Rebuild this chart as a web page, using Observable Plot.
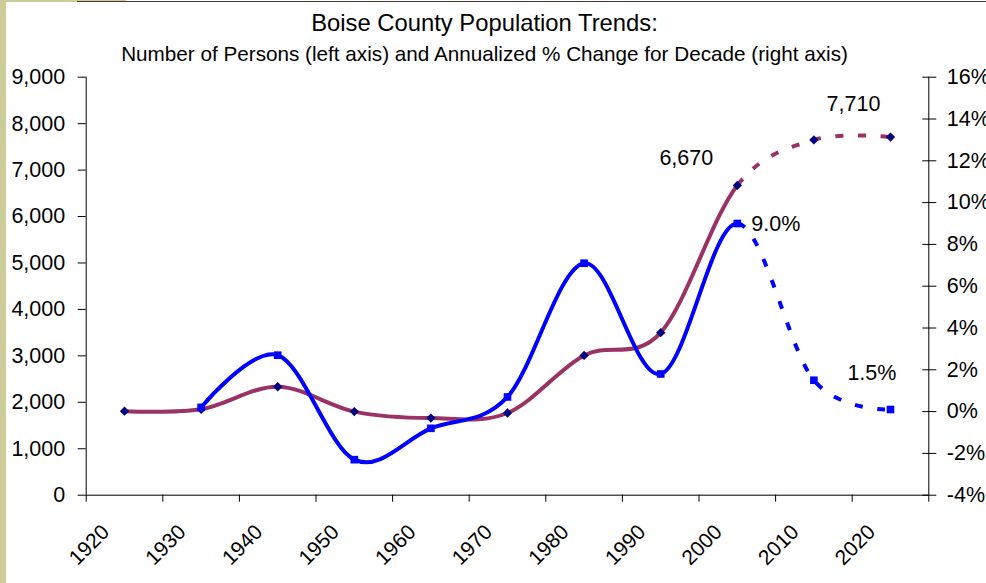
<!DOCTYPE html>
<html>
<head>
<meta charset="utf-8">
<script src="https://cdn.jsdelivr.net/npm/d3@7"></script>
<script src="https://cdn.jsdelivr.net/npm/@observablehq/plot@0.6"></script>
<style>
  html, body { margin: 0; padding: 0; background: #ffffff; }
  #page { position: relative; width: 986px; height: 583px; overflow: hidden; background: #ffffff;
          font-family: Arial, "Liberation Sans", sans-serif; color: #000; }
  .title { position: absolute; left: 0; width: 969px; text-align: center; white-space: nowrap; line-height: 1; }
  #t1 { top: 10.5px; font-size: 23.8px; }
  #t2 { top: 43.5px; font-size: 20.7px; }
  #chart { position: absolute; left: 0; top: 65px; }
  #chart svg { background: transparent !important; }
  .deco { position: absolute; z-index: 5; }
</style>
</head>
<body>
<div id="page">
  <div class="title" id="t1">Boise County Population Trends:</div>
  <div class="title" id="t2">Number of Persons (left axis) and Annualized % Change for Decade (right axis)</div>
  <div id="chart"></div>
  <div class="deco" style="left:0;top:0;width:6px;height:583px;background:#cccc99"></div>
  <div class="deco" style="left:0;top:0;width:126px;height:2px;background:#cccc99"></div>
  <div class="deco" style="left:77px;top:1px;width:909px;height:1px;background:#4e3636"></div>
</div>
<script>
// ---- data ----
const years = [1920, 1930, 1940, 1950, 1960, 1970, 1980, 1990, 2000, 2010, 2020];
const population = [1810, 1850, 2335, 1800, 1660, 1770, 3010, 3500, 6670, 7650, 7710];
const pctYears = [1930, 1940, 1950, 1960, 1970, 1980, 1990, 2000, 2010, 2020];
const pctChange = [0.2, 2.7, -2.3, -0.8, 0.7, 7.1, 1.8, 9.0, 1.5, 0.1];
const popTicks = [0, 1000, 2000, 3000, 4000, 5000, 6000, 7000, 8000, 9000];
const pctTicks = [-4, -2, 0, 2, 4, 6, 8, 10, 12, 14, 16];
const yearBounds = [1915, 1925, 1935, 1945, 1955, 1965, 1975, 1985, 1995, 2005, 2015, 2025];
const popLabelYears = [2000, 2020];
const pctLabelYears = [2000, 2010];
const projectionStart = 2000;

const popData = years.map((year, i) => ({year, pop: population[i]}));
const pctData = pctYears.map((year, i) => ({year, pct: pctChange[i]}));

// right axis (-4%..16%) mapped onto left axis (0..9000)
const pctToY = p => (p + 4) * 450;
const yToPct = v => Math.round(v / 450 - 4);

const FONT = 'Arial, "Liberation Sans", sans-serif';
const purple = "#993366", blue = "#0000ff", navy = "#000080";

const chart = Plot.plot({
  width: 986,
  height: 518,
  marginLeft: 85.7,
  marginRight: 57.7,
  marginTop: 11.7,
  marginBottom: 88.3,
  style: {fontFamily: FONT, background: "transparent", color: "#000", overflow: "visible"},
  x: {domain: [1915, 2025]},
  y: {domain: [0, 9000]},
  marks: [
    Plot.axisY({anchor: "left", ticks: popTicks, tickSize: 8, tickPadding: 13,
      tickFormat: d3.format(","), fontSize: 21.5, label: null}),
    Plot.axisY({anchor: "right", ticks: pctTicks.map(pctToY), tickSize: 14, insetRight: 7, tickPadding: 11,
      tickFormat: v => `${yToPct(v)}%`, fontSize: 21.5, label: null, textAnchor: "start"}),
    Plot.axisX({ticks: yearBounds, tickSize: 7, tickFormat: () => "", label: null}),
    Plot.ruleX([1915, 2025], {stroke: "#000"}),
    Plot.ruleY([0], {stroke: "#000"}),
    Plot.text(years, {x: d => d, frameAnchor: "bottom", text: d => String(d), rotate: -45,
      textAnchor: "end", dx: -14, dy: 38, fontSize: 21}),
    Plot.line(popData, {x: "year", y: "pop", stroke: purple, strokeWidth: 4, curve: "cardinal"}),
    Plot.dot(popData, {x: "year", y: "pop", symbol: "diamond2", r: 4.2, fill: navy}),
    Plot.line(pctData, {x: "year", y: d => pctToY(d.pct), stroke: blue, strokeWidth: 4, curve: "cardinal"}),
    Plot.dot(pctData, {x: "year", y: d => pctToY(d.pct), symbol: "square", r: 4.3, fill: blue}),
    Plot.text(popData.filter(d => d.year === popLabelYears[0]), {x: "year", y: "pop",
      text: d => d3.format(",")(d.pop), dx: -51, dy: -27, fontSize: 21.5}),
    Plot.text(popData.filter(d => d.year === popLabelYears[1]), {x: "year", y: "pop",
      text: d => d3.format(",")(d.pop), dx: -37, dy: -33, fontSize: 21.5}),
    Plot.text(pctData.filter(d => d.year === pctLabelYears[0]), {x: "year", y: d => pctToY(d.pct),
      text: d => d3.format(".1f")(d.pct) + "%", dx: 38.5, dy: 1, fontSize: 21.5}),
    Plot.text(pctData.filter(d => d.year === pctLabelYears[1]), {x: "year", y: d => pctToY(d.pct),
      text: d => d3.format(".1f")(d.pct) + "%", dx: 58, dy: -7, fontSize: 21.5})
  ]
});
document.getElementById("chart").appendChild(chart);

// solid up to the projection start, dashed afterwards (one continuous smoothed curve)
(function dashProjection() {
  const xs = chart.scale("x");
  const xAt = v => xs.apply ? xs.apply(v)
    : xs.range[0] + (v - xs.domain[0]) / (xs.domain[1] - xs.domain[0]) * (xs.range[1] - xs.range[0]);
  const target = xAt(projectionStart);
  const paths = chart.querySelectorAll('g[aria-label="line"] path');
  paths.forEach(path => {
    const total = path.getTotalLength();
    let lo = 0, hi = total;
    for (let k = 0; k < 40; k++) {
      const mid = (lo + hi) / 2;
      if (path.getPointAtLength(mid).x < target) lo = mid; else hi = mid;
    }
    const solid = lo;
    const dash = 8, gap = 14.5;
    const parts = [solid, 0];
    const n = Math.ceil((total - solid) / (dash + gap)) + 2;
    for (let k = 0; k < n; k++) parts.push(dash, gap);
    path.setAttribute("stroke-dasharray", parts.join(" "));
    path.setAttribute("stroke-linecap", "butt");
  });
})();
</script>
</body>
</html>
